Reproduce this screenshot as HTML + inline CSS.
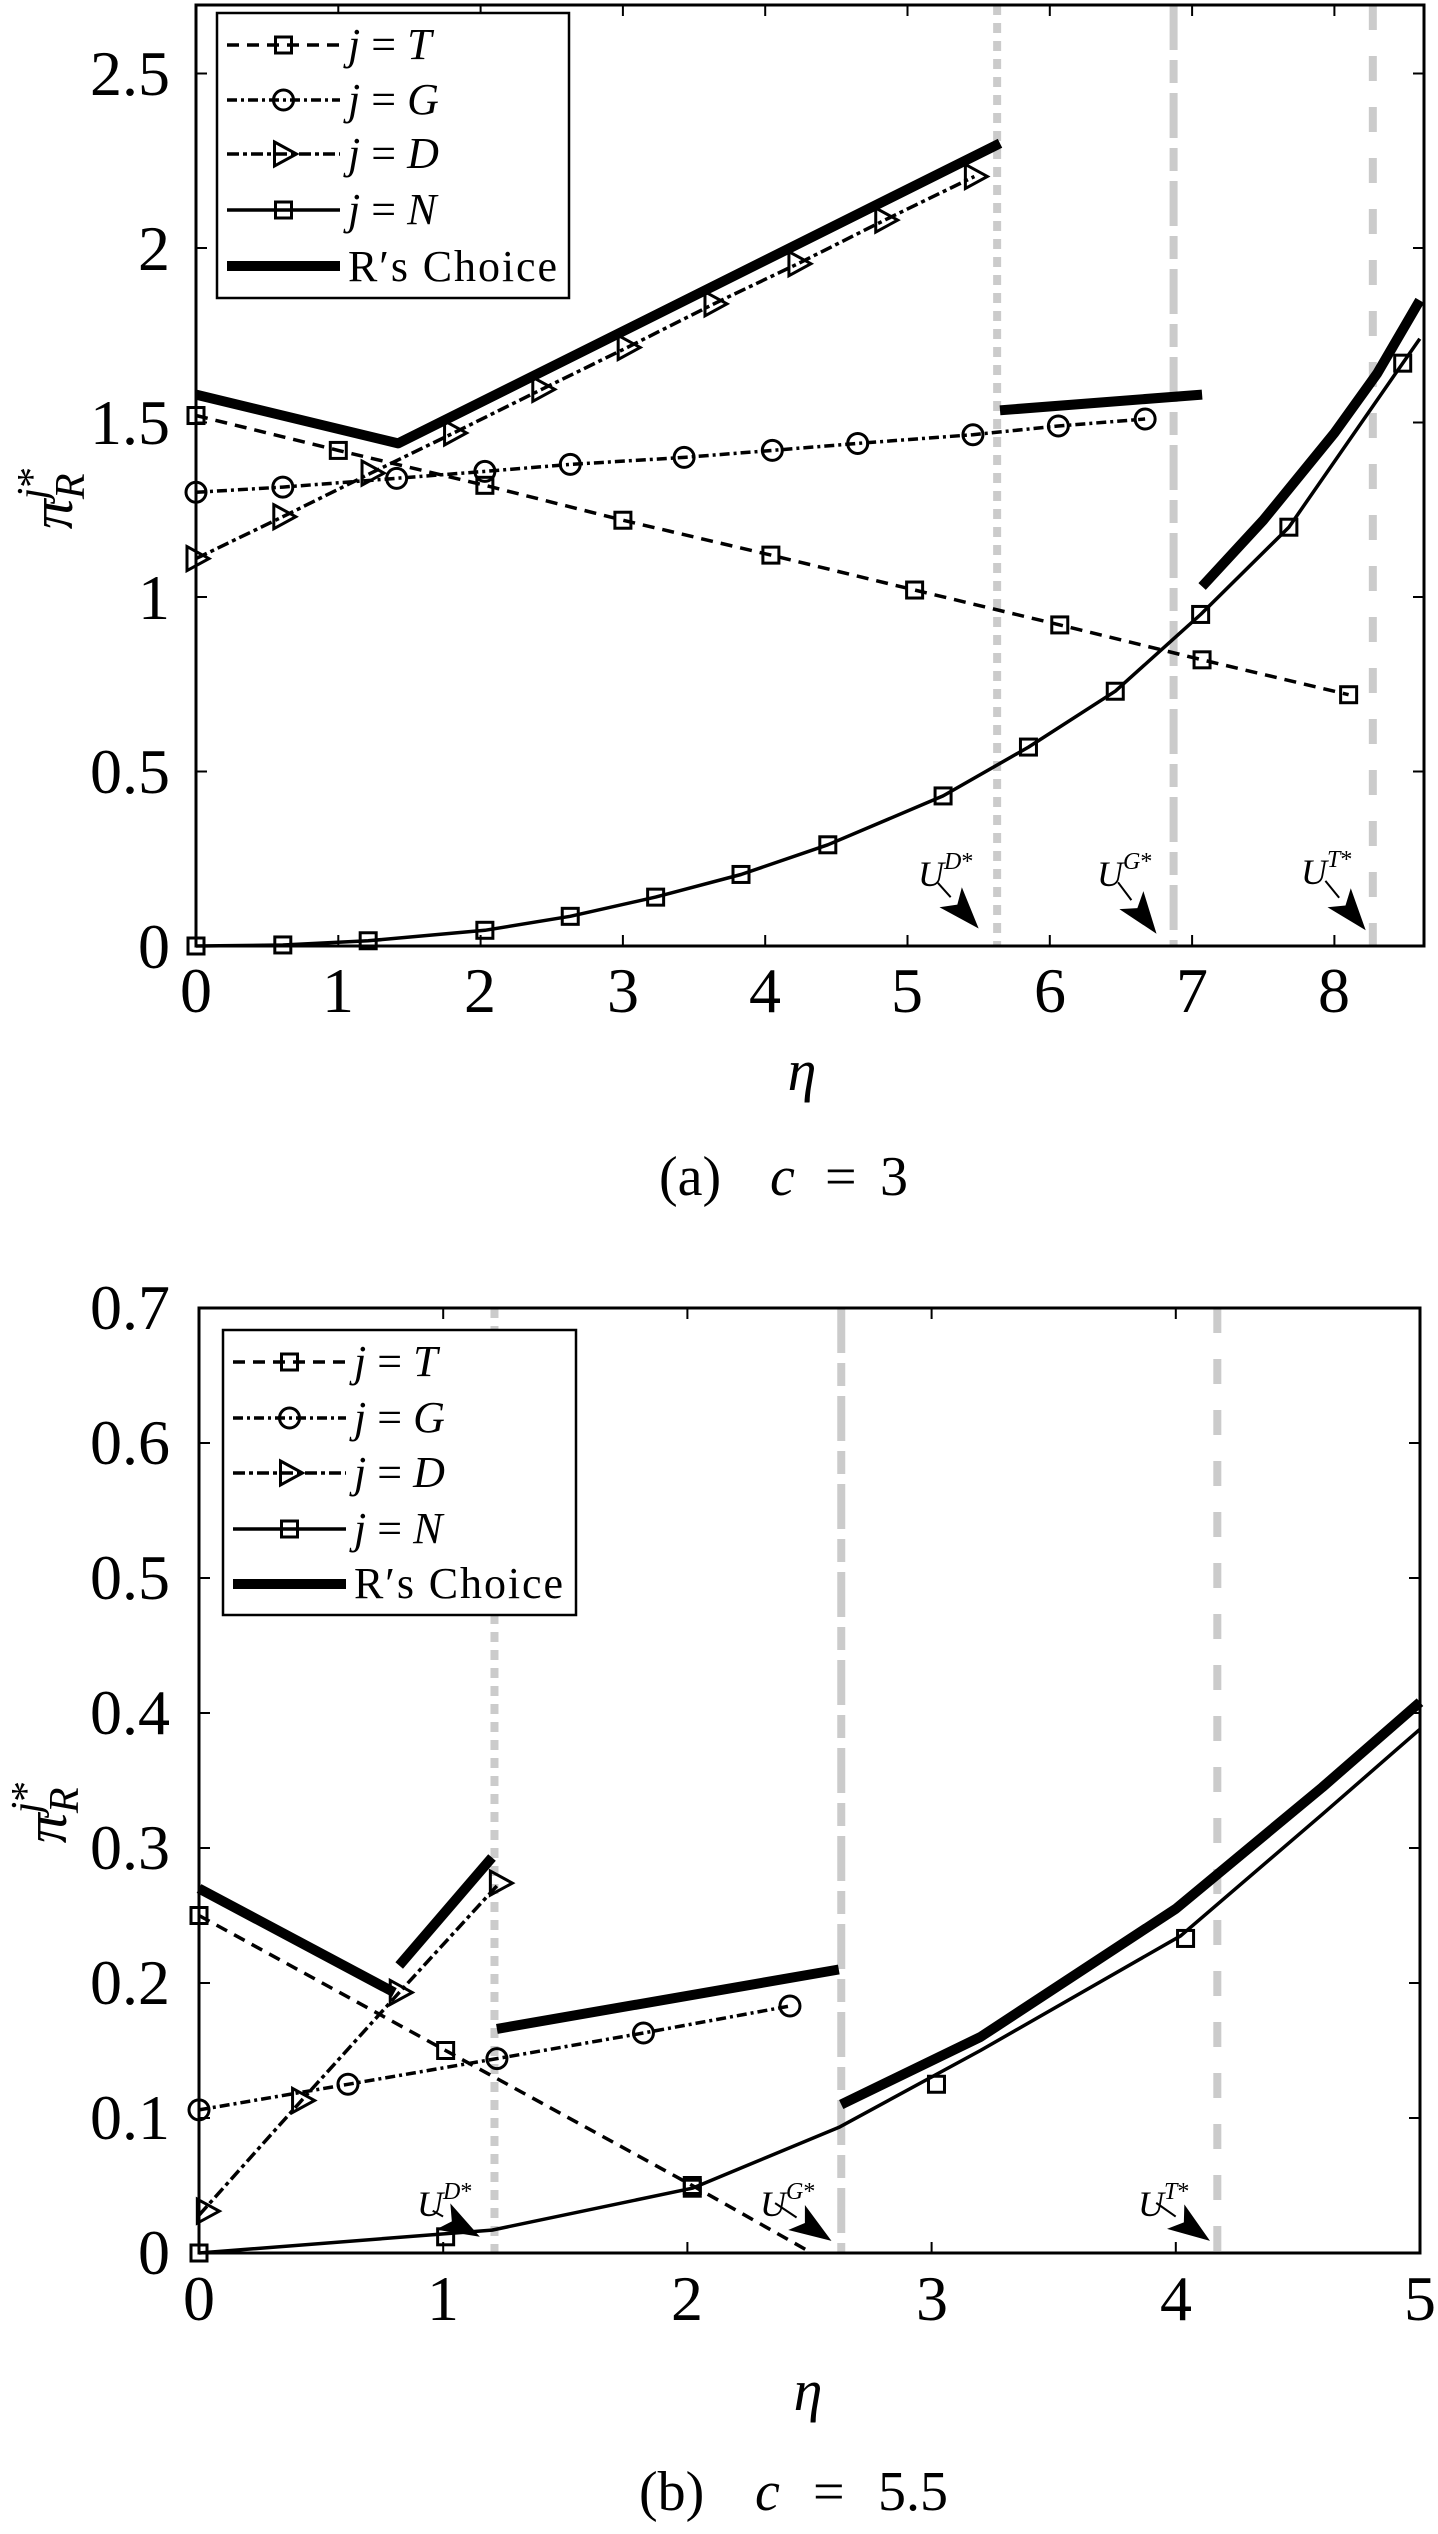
<!DOCTYPE html>
<html><head><meta charset="utf-8"><style>
html,body{margin:0;padding:0;background:#fff;}
svg{display:block;}
text{font-family:"Liberation Serif",serif;fill:#000;}
</style></head><body>
<svg id="s" xmlns="http://www.w3.org/2000/svg" width="1438" height="2534" viewBox="0 0 1438 2534">
<rect width="1438" height="2534" fill="#fff"/>
<g id="plots"></g>
<g font-size="64" text-anchor="middle">
<text x="196" y="1012">0</text><text x="338" y="1012">1</text><text x="480" y="1012">2</text><text x="623" y="1012">3</text><text x="765" y="1012">4</text><text x="907" y="1012">5</text><text x="1050" y="1012">6</text><text x="1192" y="1012">7</text><text x="1334" y="1012">8</text>
</g>
<g font-size="64" text-anchor="end">
<text x="170" y="968">0</text><text x="170" y="793">0.5</text><text x="170" y="619">1</text><text x="170" y="444">1.5</text><text x="170" y="270">2</text><text x="170" y="95">2.5</text>
</g>
<text x="802" y="1090" font-size="58" font-style="italic" text-anchor="middle">η</text>
<g font-size="56"><text x="659" y="1195">(a)</text><text x="770" y="1195" font-style="italic">c</text><text x="825" y="1195">=</text><text x="880" y="1195">3</text></g>
<text transform="translate(72,498) rotate(-90)" font-size="60" text-anchor="middle"><tspan font-style="italic">π</tspan><tspan font-size="42" font-style="italic" dy="12">R</tspan><tspan font-size="42" font-style="italic" dx="-26" dy="-38">j</tspan><tspan font-size="42" dy="0">*</tspan></text>
<rect x="217" y="13" width="352" height="285" fill="#fff" stroke="#000" stroke-width="2.5"/>
<g font-size="44">
<text x="348" y="59"><tspan font-style="italic">j</tspan> = <tspan font-style="italic">T</tspan></text>
<text x="348" y="114"><tspan font-style="italic">j</tspan> = <tspan font-style="italic">G</tspan></text>
<text x="348" y="168"><tspan font-style="italic">j</tspan> = <tspan font-style="italic">D</tspan></text>
<text x="348" y="224"><tspan font-style="italic">j</tspan> = <tspan font-style="italic">N</tspan></text>
<text x="348" y="281" textLength="209">R′s Choice</text>
</g>
<g font-size="36">
<text x="918" y="886"><tspan font-style="italic">U</tspan><tspan font-size="24" dy="-17" font-style="italic">D</tspan><tspan font-size="24">*</tspan></text>
<text x="1097" y="886"><tspan font-style="italic">U</tspan><tspan font-size="24" dy="-17" font-style="italic">G</tspan><tspan font-size="24">*</tspan></text>
<text x="1301" y="884"><tspan font-style="italic">U</tspan><tspan font-size="24" dy="-17" font-style="italic">T</tspan><tspan font-size="24">*</tspan></text>
</g>
<g font-size="64" text-anchor="middle">
<text x="199" y="2320">0</text><text x="443" y="2320">1</text><text x="687" y="2320">2</text><text x="932" y="2320">3</text><text x="1176" y="2320">4</text><text x="1420" y="2320">5</text>
</g>
<g font-size="64" text-anchor="end">
<text x="170" y="2274">0</text><text x="170" y="2139">0.1</text><text x="170" y="2004">0.2</text><text x="170" y="1869">0.3</text><text x="170" y="1734">0.4</text><text x="170" y="1599">0.5</text><text x="170" y="1464">0.6</text><text x="170" y="1329">0.7</text>
</g>
<text x="808" y="2410" font-size="58" font-style="italic" text-anchor="middle">η</text>
<g font-size="56"><text x="639" y="2510">(b)</text><text x="755" y="2510" font-style="italic">c</text><text x="813" y="2510">=</text><text x="878" y="2510">5.5</text></g>
<text transform="translate(66,1812) rotate(-90)" font-size="60" text-anchor="middle"><tspan font-style="italic">π</tspan><tspan font-size="42" font-style="italic" dy="12">R</tspan><tspan font-size="42" font-style="italic" dx="-26" dy="-38">j</tspan><tspan font-size="42" dy="0">*</tspan></text>
<rect x="223" y="1330" width="353" height="285" fill="#fff" stroke="#000" stroke-width="2.5"/>
<g font-size="44">
<text x="354" y="1376"><tspan font-style="italic">j</tspan> = <tspan font-style="italic">T</tspan></text>
<text x="354" y="1432"><tspan font-style="italic">j</tspan> = <tspan font-style="italic">G</tspan></text>
<text x="354" y="1487"><tspan font-style="italic">j</tspan> = <tspan font-style="italic">D</tspan></text>
<text x="354" y="1543"><tspan font-style="italic">j</tspan> = <tspan font-style="italic">N</tspan></text>
<text x="354" y="1598" textLength="209">R′s Choice</text>
</g>
<g font-size="36">
<text x="417" y="2216"><tspan font-style="italic">U</tspan><tspan font-size="24" dy="-17" font-style="italic">D</tspan><tspan font-size="24">*</tspan></text>
<text x="760" y="2216"><tspan font-style="italic">U</tspan><tspan font-size="24" dy="-17" font-style="italic">G</tspan><tspan font-size="24">*</tspan></text>
<text x="1138" y="2216"><tspan font-style="italic">U</tspan><tspan font-size="24" dy="-17" font-style="italic">T</tspan><tspan font-size="24">*</tspan></text>
</g>
<g id="leg"></g>
</svg>
<script>
(function(){
var NS="http://www.w3.org/2000/svg";
var P=document.getElementById("plots"), L=document.getElementById("leg");
function el(par,n,a){var e=document.createElementNS(NS,n);for(var k in a)e.setAttribute(k,a[k]);par.appendChild(e);return e;}
var DASH={T:"12,8",G:"10,4,3,4",D:"12,4,4,4",N:"none"};
function marker(par,type,x,y){
 if(type=="sq") el(par,"rect",{x:x-8,y:y-8,width:16,height:16,fill:"none",stroke:"#000","stroke-width":3});
 else if(type=="ci") el(par,"circle",{cx:x,cy:y,r:10,fill:"none",stroke:"#000","stroke-width":3});
 else el(par,"polygon",{points:(x-9)+","+(y-12)+" "+(x+13)+","+y+" "+(x-9)+","+(y+12),fill:"none",stroke:"#000","stroke-width":3});
}
function poly(par,pts,w,dash){
 el(par,"polyline",{points:pts.map(function(p){return p[0].toFixed(1)+","+p[1].toFixed(1)}).join(" "),fill:"none",stroke:"#000","stroke-width":w,"stroke-dasharray":dash||"none","stroke-linejoin":"round"});
}
function arrow(par,x1,y1,x2,y2){
 var dx=x2-x1,dy=y2-y1,l=Math.sqrt(dx*dx+dy*dy),ux=dx/l,uy=dy/l;
 var hl=42,hw=15,bx=x2-ux*hl,by=y2-uy*hl;
 el(par,"line",{x1:x1-ux*12,y1:y1-uy*12,x2:bx,y2:by,stroke:"#000","stroke-width":2});
 el(par,"polygon",{points:x2+","+y2+" "+(bx-uy*hw)+","+(by+ux*hw)+" "+(bx+ux*10)+","+(by+uy*10)+" "+(bx+uy*hw)+","+(by-ux*hw),fill:"#000"});
}
function plot(c){
 var X=function(e){return c.x0+e*c.sx}, Y=function(v){return c.y0-v*c.sy};
 var g=el(P,"g",{});
 var vd={dot:"10,8",dd:"45,10,23,10",dash:"25,26"};
 c.vl.forEach(function(v){el(g,"line",{x1:X(v[0]),y1:c.top,x2:X(v[0]),y2:c.y0,stroke:"#cbcbcb","stroke-width":8,"stroke-dasharray":vd[v[1]]});});
 c.s.forEach(function(s){
  poly(g,s.line.map(function(p){return [X(p[0]),Y(p[1])]}),3.5,DASH[s.k]);
  (s.m||s.line).forEach(function(p){marker(g,s.mk,X(p[0]),Y(p[1]));});
 });
 c.ch.forEach(function(seg){poly(g,seg.map(function(p){return [X(p[0]),Y(p[1])]}),10,null);});
 c.ar.forEach(function(a){arrow(g,X(a[0]),Y(a[1]),X(a[2]),Y(a[3]));});
 el(g,"rect",{x:c.x0,y:c.top,width:c.right-c.x0,height:c.y0-c.top,fill:"none",stroke:"#000","stroke-width":3});
 c.xt.forEach(function(t){var x=X(t);el(g,"line",{x1:x,y1:c.y0,x2:x,y2:c.y0-11,stroke:"#000","stroke-width":2});el(g,"line",{x1:x,y1:c.top,x2:x,y2:c.top+11,stroke:"#000","stroke-width":2});});
 c.yt.forEach(function(t){var y=Y(t);el(g,"line",{x1:c.x0,y1:y,x2:c.x0+11,y2:y,stroke:"#000","stroke-width":2});el(g,"line",{x1:c.right,y1:y,x2:c.right-11,y2:y,stroke:"#000","stroke-width":2});});
}
var cfgA={x0:196,sx:142.3,y0:946,sy:349,top:5,right:1424,
 vl:[[5.63,"dot"],[6.87,"dd"],[8.27,"dash"]],
 xt:[0,1,2,3,4,5,6,7,8], yt:[0,0.5,1,1.5,2,2.5],
 s:[
 {k:"T",mk:"sq",line:[[0,1.52],[1.0,1.42],[2.03,1.32],[3.0,1.22],[4.04,1.12],[5.05,1.02],[6.07,0.92],[7.07,0.82],[8.1,0.72]]},
 {k:"G",mk:"ci",line:[[0,1.30],[0.61,1.315],[1.41,1.34],[2.03,1.36],[2.63,1.38],[3.43,1.40],[4.05,1.42],[4.65,1.44],[5.46,1.465],[6.06,1.49],[6.67,1.51]]},
 {k:"D",mk:"tr",line:[[0,1.11],[0.61,1.23],[1.23,1.355],[1.81,1.47],[2.43,1.595],[3.03,1.715],[3.64,1.84],[4.23,1.955],[4.84,2.08],[5.47,2.205]]},
 {k:"N",mk:"sq",line:[[0,0],[0.61,0.003],[1.21,0.015],[2.03,0.045],[2.63,0.085],[3.23,0.14],[3.83,0.205],[4.44,0.29],[5.25,0.43],[5.85,0.57],[6.46,0.73],[7.06,0.95],[7.68,1.2],[8.48,1.67],[8.6,1.74]],
  m:[[0,0],[0.61,0.003],[1.21,0.015],[2.03,0.045],[2.63,0.085],[3.23,0.14],[3.83,0.205],[4.44,0.29],[5.25,0.43],[5.85,0.57],[6.46,0.73],[7.06,0.95],[7.68,1.2],[8.48,1.67]]}
 ],
 ch:[[[0,1.58],[1.42,1.44],[5.65,2.30]],[[5.65,1.535],[7.07,1.58]],[[7.07,1.03],[7.5,1.22],[8.0,1.47],[8.3,1.64],[8.6,1.85]]],
 ar:[[5.27,0.155,5.5,0.05],[6.53,0.155,6.75,0.035],[7.99,0.16,8.22,0.045]]
};
var cfgB={x0:199,sx:244.2,y0:2253,sy:1350,top:1308,right:1420,
 vl:[[1.21,"dot"],[2.63,"dd"],[4.17,"dash"]],
 xt:[0,1,2,3,4,5], yt:[0,0.1,0.2,0.3,0.4,0.5,0.6,0.7],
 s:[
 {k:"T",mk:"sq",line:[[0,0.25],[1.01,0.15],[2.02,0.05],[2.51,0]],m:[[0,0.25],[1.01,0.15],[2.02,0.05]]},
 {k:"G",mk:"ci",line:[[0,0.106],[0.61,0.125],[1.22,0.144],[1.82,0.163],[2.42,0.183]]},
 {k:"D",mk:"tr",line:[[0,0.028],[0.42,0.113],[0.82,0.193],[1.23,0.274]],m:[[0.03,0.031],[0.42,0.113],[0.82,0.193],[1.23,0.274]]},
 {k:"N",mk:"sq",line:[[0,0],[1.2,0.017],[2.02,0.048],[2.62,0.093],[3.2,0.15],[4.02,0.235],[4.6,0.325],[5,0.388]],m:[[0,0],[1.01,0.012],[2.02,0.048],[3.02,0.125],[4.04,0.233]]}
 ],
 ch:[[[0,0.27],[0.8,0.193]],[[0.82,0.213],[1.2,0.293]],[[1.22,0.166],[2.62,0.21]],[[2.63,0.11],[3.2,0.16],[4.0,0.255],[4.6,0.345],[5,0.408]]],
 ar:[[1.0,0.027,1.15,0.012],[2.40,0.032,2.59,0.009],[3.96,0.032,4.14,0.009]]
};
plot(cfgA);plot(cfgB);
function legend(x1,x2,ys){
 var ks=["T","G","D","N"],mk=["sq","ci","tr","sq"],mx=(x1+x2)/2;
 for(var i=0;i<4;i++){el(L,"line",{x1:x1,y1:ys[i],x2:x2,y2:ys[i],stroke:"#000","stroke-width":3.5,"stroke-dasharray":DASH[ks[i]]});marker(L,mk[i],mx,ys[i]);}
 el(L,"line",{x1:x1,y1:ys[4],x2:x2,y2:ys[4],stroke:"#000","stroke-width":10});
}
legend(227,340,[45,100,154,210,266]);
legend(233,346,[1362,1418,1473,1529,1584]);
})();
</script>
</body></html>
